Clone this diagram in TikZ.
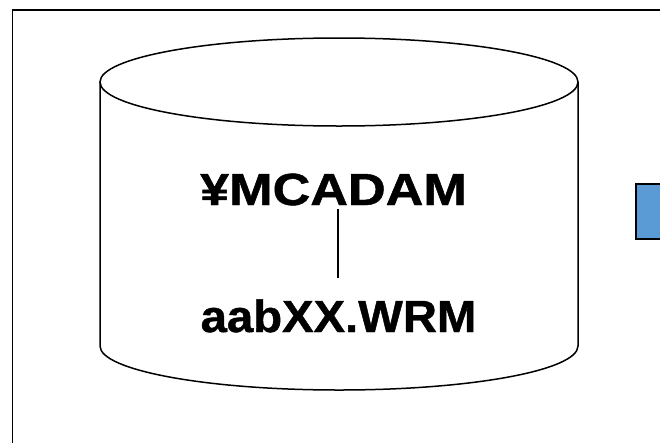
\documentclass[tikz,border=0pt]{standalone}
\usepackage{fontspec}
\setmainfont{Liberation Sans}
\newfontfamily\heavyfont{Liberation Sans Bold}[FakeBold=1.0]
\definecolor{boxblue}{HTML}{5B9BD5}
\begin{document}
\begin{tikzpicture}[x=1pt,y=-1pt,
  frameline/.style={line width=1.8pt},
  cylline/.style={line width=1.5pt},
  label/.style={inner sep=0pt, text depth=0pt, anchor=base, font=\fontsize{45}{50}\heavyfont},
  connector/.style={line width=1.8pt}]
\useasboundingbox (0,0) rectangle (660,442);
\clip (0,0) rectangle (660,442);
% outer frame
\draw[frameline] (12.5,10) rectangle (720,500);
% cylinder
\draw[cylline, fill=white] (100,82) -- (100,346) arc[start angle=180, end angle=0, x radius=239, y radius=44] -- (578,82);
\draw[cylline] (339,82) ellipse [x radius=239, y radius=44];
% texts
\node[label, text height=32pt, xscale=1.16] (t1) at (333.5,205) {¥MCADAM};
\node[label, text height=32pt, xscale=1.05] (t2) at (338.5,332) {aabXX.WRM};
\draw[connector, shorten <=4pt, shorten >=22pt] (t1.south -| 338,0) -- (t2.north -| 338,0);
% blue box
\draw[line width=1.5pt, fill=boxblue] (636,184) rectangle (720,239);
\end{tikzpicture}
\end{document}
